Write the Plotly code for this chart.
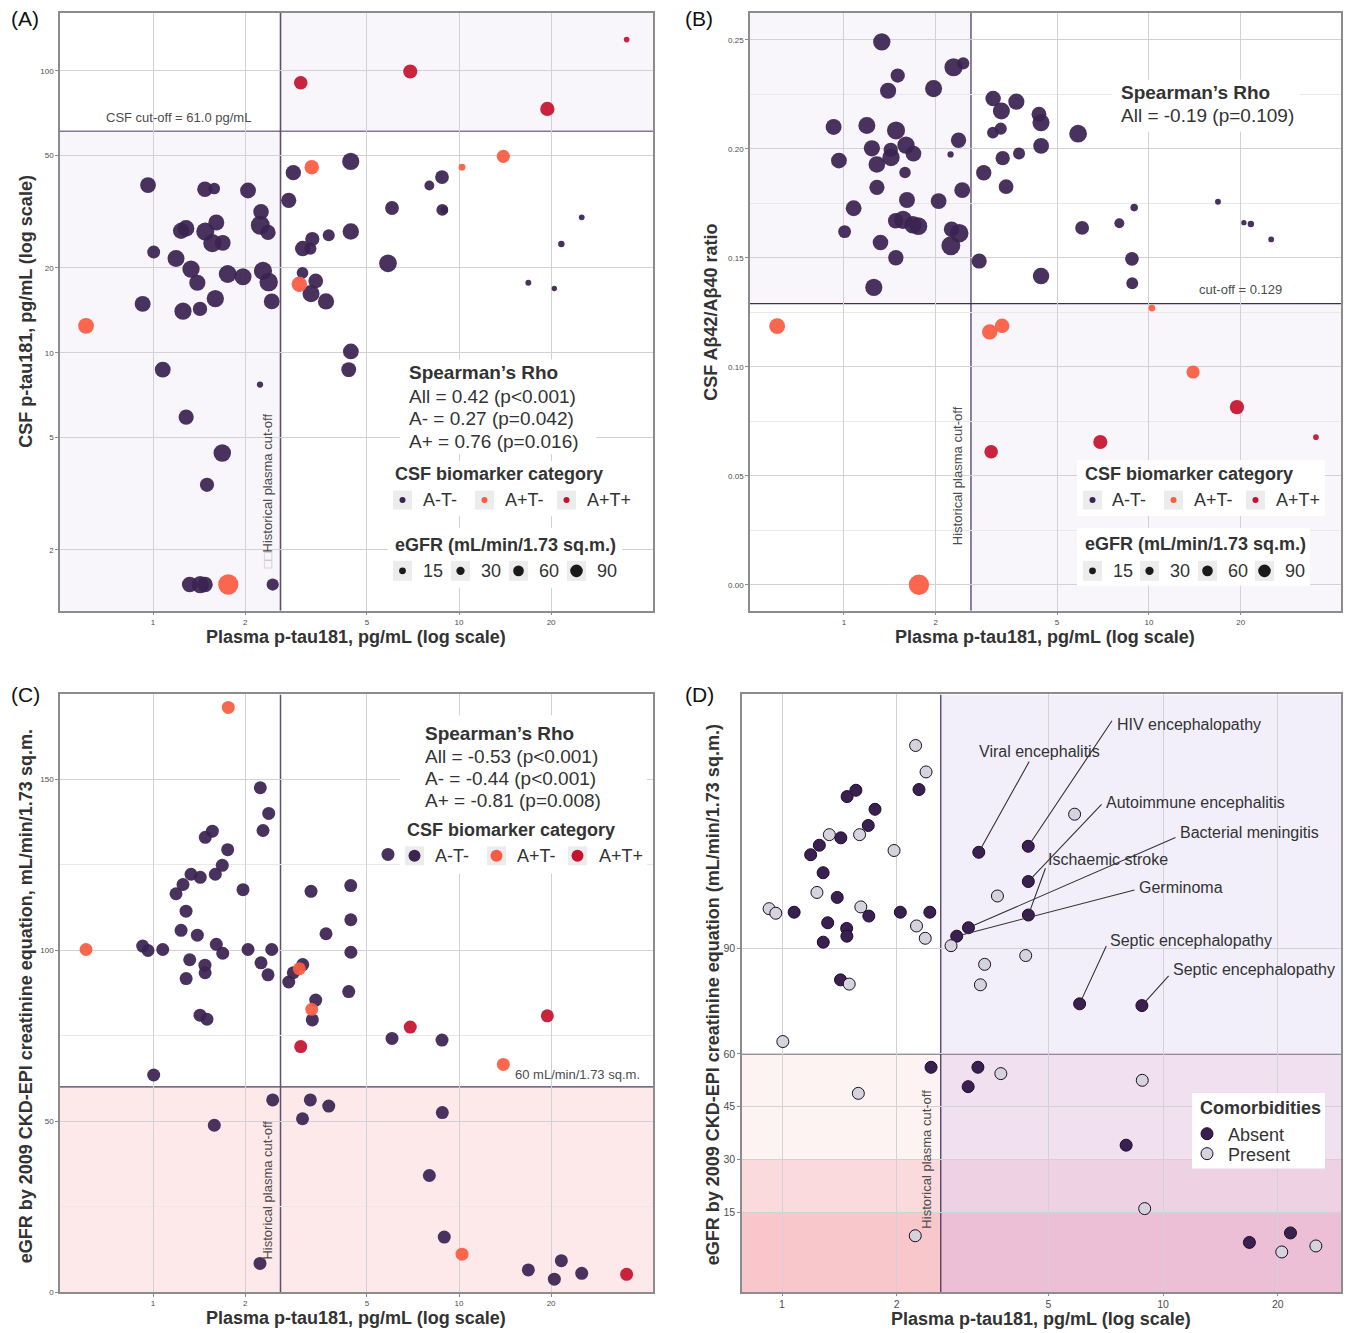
import numpy as np
import plotly.graph_objects as go

W, H = 1346, 1333
FONT = "Liberation Sans, Arial, Helvetica, sans-serif"

# ------------------------------------------------------------------ data
plasma = [
    0.604, 0.925, 0.963, 1.005, 1.076, 1.189, 1.235, 1.253, 1.282, 1.283,
    1.318, 1.331, 1.396, 1.424, 1.427, 1.478, 1.480, 1.482, 1.501, 1.563,
    1.586, 1.598, 1.610, 1.684, 1.690, 1.754, 1.762, 1.968, 2.044, 2.237,
    2.242, 2.254, 2.288, 2.376, 2.388, 2.443, 2.461, 2.777, 2.874, 3.007,
    3.039, 3.085, 3.080, 3.267, 3.284, 3.301, 3.316, 3.402, 3.676, 3.752,
    4.361, 4.428, 4.430, 4.432, 5.86, 6.04, 6.93, 8.00, 8.80, 8.82,
    8.95, 10.23, 13.96, 16.85, 19.44, 20.49, 21.60, 25.18, 35.3]

csf_ptau = [
    12.45, 14.9, 39.3, 22.75, 8.71, 21.6, 27.05, 14.04, 27.6, 5.91,
    1.506, 19.8, 17.7, 14.3, 1.506, 37.97, 1.506, 26.9, 3.40, 24.47,
    38.2, 15.56, 28.96, 4.41, 24.53, 19.02, 1.506, 18.6, 37.6, 7.71,
    28.3, 31.6, 19.5, 26.7, 17.8, 15.2, 1.506, 34.7, 43.5, 17.5,
    90.7, 23.4, 19.2, 23.4, 16.2, 45.5, 25.3, 17.97, 15.2, 26.1,
    8.71, 47.7, 26.9, 10.1, 20.75, 32.6, 99.4, 39.2, 41.98, 32.1,
    32.1, 45.5, 49.7, 17.7, 73.2, 16.9, 24.3, 30.2, 129.0]

ab_ratio = [
    0.1186, 0.210, 0.1946, 0.162, 0.1727, 0.2107, 0.2002, 0.1364, 0.1928, 0.1823,
    0.157, 0.249, 0.2266, 0.1995, 0.196, 0.167, 0.150, 0.2084, 0.2336, 0.1674,
    0.1891, 0.2017, 0.1765, 0.1651, 0.1978, 0.1645, 0.000, 0.2276, 0.176, 0.1974,
    0.1555, 0.1631, 0.2374, 0.2039, 0.1613, 0.181, 0.2392, 0.1485, 0.189, 0.116,
    0.061, 0.223, 0.2074, 0.2092, 0.2173, 0.1188, 0.1957, 0.1826, 0.2216, 0.1978,
    0.2158, 0.212, 0.1416, 0.2013, 0.2069, 0.1637, 0.0655, 0.1658, 0.1495, 0.1383,
    0.173, 0.1269, 0.0976, 0.1757, 0.0815, 0.1661, 0.1655, 0.1584, 0.0677]

egfr = [
    100.2, 101.2, 99.9, 63.5, 100.2, 116.5, 105.8, 119.2, 111.4, 91.7,
    97.2, 122.2, 104.4, 81.0, 121.3, 95.6, 93.4, 133.0, 79.8, 134.8,
    48.8, 122.2, 101.7, 124.8, 99.1, 129.4, 171.0, 117.7, 100.2, 8.4,
    147.5, 96.3, 135.0, 92.8, 140.0, 100.2, 56.2, 90.7, 93.4, 94.6,
    71.8, 95.8, 50.7, 56.2, 117.2, 82.7, 79.6, 85.4, 104.8, 54.4,
    87.9, 118.9, 108.9, 99.4, 128.0, 74.2, 77.5, 34.1, 73.7, 52.5,
    16.1, 11.1, 66.6, 6.5, 80.8, 3.8, 9.2, 5.5, 5.2]

category = [
    "A+T-", "A-T-", "A-T-", "A-T-", "A-T-", "A-T-", "A-T-", "A-T-", "A-T-", "A-T-",
    "A-T-", "A-T-", "A-T-", "A-T-", "A-T-", "A-T-", "A-T-", "A-T-", "A-T-", "A-T-",
    "A-T-", "A-T-", "A-T-", "A-T-", "A-T-", "A-T-", "A+T-", "A-T-", "A-T-", "A-T-",
    "A-T-", "A-T-", "A-T-", "A-T-", "A-T-", "A-T-", "A-T-", "A-T-", "A-T-", "A+T-",
    "A+T+", "A-T-", "A-T-", "A-T-", "A-T-", "A+T-", "A-T-", "A-T-", "A-T-", "A-T-",
    "A-T-", "A-T-", "A-T-", "A-T-", "A-T-", "A-T-", "A+T+", "A-T-", "A-T-", "A-T-",
    "A-T-", "A+T-", "A+T-", "A-T-", "A+T+", "A-T-", "A-T-", "A-T-", "A+T+"]

comorbidity = [
    "", "Present", "Present", "Present", "Absent", "Absent", "Present", "Absent", "Absent", "Absent",
    "Absent", "Present", "Absent", "Absent", "Absent", "Absent", "Absent", "Absent", "Present", "Absent",
    "Present", "Present", "Present", "Absent", "Absent", "Absent", "", "Present", "Absent", "Present",
    "Present", "Present", "Absent", "Present", "Present", "Absent", "Absent", "Present", "Absent", "",
    "", "Absent", "Absent", "Absent", "Absent", "", "Present", "Present", "Present", "Present",
    "Present", "Absent", "Absent", "Absent", "Present", "Absent", "", "Absent", "Absent", "Present",
    "Present", "", "", "Absent", "", "Present", "Absent", "Present", ""]

categories = ["A-T-", "A+T-", "A+T+"]
comorb_levels = ["Absent", "Present"]
egfr_legend = [15, 30, 60, 90]

x_ticks = [1, 2, 5, 10, 20]
ptau_ticks = [2, 5, 10, 20, 50, 100]
egfr_ticks_d = [15, 30, 45, 60, 90]

plasma_cut = 2.61
csf_cut = 61.0
ratio_cut = 0.129
egfr_cut = 60
egfr_bands = [30, 15]

rho_A = ["All = 0.42 (p<0.001)", "A- = 0.27 (p=0.042)", "A+ = 0.76 (p=0.016)"]
rho_B = ["All = -0.19 (p=0.109)"]
rho_C = ["All = -0.53 (p<0.001)", "A- = -0.44 (p<0.001)", "A+ = -0.81 (p=0.008)"]

d_labels = ["HIV encephalopathy", "Viral encephalitis", "Autoimmune encephalitis",
            "Bacterial meningitis", "Ischaemic stroke", "Germinoma",
            "Septic encephalopathy", "Septic encephalopathy"]
d_label_idx = [51, 44, 52, 41, 53, 38, 55, 58]

# ------------------------------------------------------------------ styles
cat_color = {"A-T-": "#3b2352", "A+T-": "#fb5b41", "A+T+": "#c5122f"}
com_fill = {"Absent": "#3a2050", "Present": "#d5d4dc"}
MARK_OPACITY = 0.93

def pt_size(e):
    return float(np.sqrt(20 + 2.3 * e))

def leg_size(e):
    return float(np.sqrt(24 + 1.5 * e))

# panel pixel boxes (left, right, top, bottom)
PA = (60, 653, 13, 613)
PB = (750, 1341, 13, 613)
PC = (60, 653, 697, 1297)
PD = (742, 1341, 697, 1297)

XR_A = [-0.304, 1.634]
YR_A = [0.085, 2.205]
XR_B = [-0.308, 1.630]
YR_B = [-0.0119, 0.2623]
XR_C = [-0.304, 1.634]
YR_C = [0, 174.8]
XR_D = [-0.105, 1.467]
YR_D = [-7.6, 162]

def xdom(p):
    return [p[0] / W, p[1] / W]

def ydom(p):
    return [1 - p[3] / H, 1 - p[2] / H]

fig = go.Figure()

idx_by_cat = {c: [i for i, v in enumerate(category) if v == c] for c in categories}

# Panel A
for c in categories:
    ii = idx_by_cat[c]
    fig.add_trace(go.Scatter(
        x=[plasma[i] for i in ii], y=[csf_ptau[i] for i in ii], mode="markers",
        marker=dict(size=[pt_size(egfr[i]) for i in ii], color=cat_color[c],
                    opacity=MARK_OPACITY, line=dict(width=0)),
        xaxis="x", yaxis="y", showlegend=False, hoverinfo="skip"))
# Panel B
for c in categories:
    ii = idx_by_cat[c]
    fig.add_trace(go.Scatter(
        x=[plasma[i] for i in ii], y=[ab_ratio[i] for i in ii], mode="markers",
        marker=dict(size=[pt_size(egfr[i]) for i in ii], color=cat_color[c],
                    opacity=MARK_OPACITY, line=dict(width=0)),
        xaxis="x2", yaxis="y2", showlegend=False, hoverinfo="skip"))
# Panel C
for c in categories:
    ii = idx_by_cat[c]
    fig.add_trace(go.Scatter(
        x=[plasma[i] for i in ii], y=[egfr[i] for i in ii], mode="markers",
        marker=dict(size=13, color=cat_color[c], opacity=MARK_OPACITY, line=dict(width=0)),
        xaxis="x3", yaxis="y3", showlegend=False, hoverinfo="skip"))
# Panel D (A-T- only)
for lev in comorb_levels:
    ii = [i for i in range(len(plasma)) if category[i] == "A-T-" and comorbidity[i] == lev]
    fig.add_trace(go.Scatter(
        x=[plasma[i] for i in ii], y=[egfr[i] for i in ii], mode="markers",
        marker=dict(size=12, color=com_fill[lev], opacity=1, line=dict(width=1, color="#1c0c2a")),
        xaxis="x4", yaxis="y4", showlegend=False, hoverinfo="skip"))

# ------------------------------------------------------------------ shapes
shapes = []

def drect(xr, yr, x0, x1, y0, y1, fill):
    shapes.append(dict(type="rect", xref=xr, yref=yr, x0=x0, x1=x1, y0=y0, y1=y1,
                       fillcolor=fill, line=dict(width=0), layer="below"))

def dline(xr, yr, x0, x1, y0, y1, color, w):
    shapes.append(dict(type="line", xref=xr, yref=yr, x0=x0, x1=x1, y0=y0, y1=y1,
                       line=dict(color=color, width=w), layer="below"))

def prect(l, t, r, b, fill, layer="above"):
    shapes.append(dict(type="rect", xref="paper", yref="paper", x0=l / W, x1=r / W,
                       y0=1 - b / H, y1=1 - t / H, fillcolor=fill, line=dict(width=0), layer=layer))

def pdot(cx, cy, d, fill, lc=None, lw=0):
    shapes.append(dict(type="circle", xref="paper", yref="paper", xsizemode="pixel", ysizemode="pixel",
                       xanchor=cx / W, yanchor=1 - cy / H, x0=-d / 2, x1=d / 2, y0=-d / 2, y1=d / 2,
                       fillcolor=fill, line=dict(width=lw, color=lc or fill), layer="above"))

LAV = "#f8f6fb"
# A
ax_lo, ax_hi = 10 ** XR_A[0], 10 ** XR_A[1]
ay_lo, ay_hi = 10 ** YR_A[0], 10 ** YR_A[1]
drect("x", "y", ax_lo, plasma_cut, ay_lo, csf_cut, LAV)
drect("x", "y", plasma_cut, ax_hi, csf_cut, ay_hi, LAV)
dline("x", "y", ax_lo, ax_hi, csf_cut, csf_cut, "#85769a", 1.6)
dline("x", "y", plasma_cut, plasma_cut, ay_lo, ay_hi, "#5e4f71", 1.6)
# B
bx_lo, bx_hi = 10 ** XR_B[0], 10 ** XR_B[1]
drect("x2", "y2", bx_lo, plasma_cut, ratio_cut, YR_B[1], LAV)
drect("x2", "y2", plasma_cut, bx_hi, YR_B[0], ratio_cut, LAV)
dline("x2", "y2", bx_lo, bx_hi, ratio_cut, ratio_cut, "#3f2d5c", 1.2)
dline("x2", "y2", plasma_cut, plasma_cut, YR_B[0], YR_B[1], "#3f2d5c", 1.2)
# C
cx_lo, cx_hi = 10 ** XR_C[0], 10 ** XR_C[1]
drect("x3", "y3", cx_lo, cx_hi, YR_C[0], egfr_cut, "#fde9ea")
dline("x3", "y3", cx_lo, cx_hi, egfr_cut, egfr_cut, "#4a3d63", 1.3)
dline("x3", "y3", plasma_cut, plasma_cut, YR_C[0], YR_C[1], "#5d5070", 1.5)
# D
dx_lo, dx_hi = 10 ** XR_D[0], 10 ** XR_D[1]
drect("x4", "y4", plasma_cut, dx_hi, egfr_cut, YR_D[1], "#f2effa")
drect("x4", "y4", dx_lo, plasma_cut, egfr_bands[0], egfr_cut, "#fdf3f3")
drect("x4", "y4", dx_lo, plasma_cut, egfr_bands[1], egfr_bands[0], "#fbdadd")
drect("x4", "y4", dx_lo, plasma_cut, YR_D[0], egfr_bands[1], "#f8c7cc")
drect("x4", "y4", plasma_cut, dx_hi, egfr_bands[0], egfr_cut, "#f1e1f0")
drect("x4", "y4", plasma_cut, dx_hi, egfr_bands[1], egfr_bands[0], "#efd1e4")
drect("x4", "y4", plasma_cut, dx_hi, YR_D[0], egfr_bands[1], "#edbfd6")
dline("x4", "y4", dx_lo, dx_hi, egfr_cut, egfr_cut, "#3d2b56", 1.2)
dline("x4", "y4", plasma_cut, plasma_cut, YR_D[0], YR_D[1], "#3d2b56", 1.2)

# ------------------------------------------------------------------ annotations
ann = []

def txt(text, x, y, size=13, color="#4d4d4d", xa="center", ya="middle", angle=0, bold=False):
    ann.append(dict(text=("<b>%s</b>" % text) if bold else text, x=x / W, y=1 - y / H,
                    xref="paper", yref="paper", showarrow=False, xanchor=xa, yanchor=ya,
                    textangle=angle, font=dict(family=FONT, size=size, color=color)))

KEYBG = "#ececec"
TXT = "#333333"

def cat_legend(x_title, y_title, key_lefts, label_lefts, y_key, dot_d, title="CSF biomarker category"):
    txt(title, x_title, y_title, 18, TXT, "left", bold=True)
    for c, kl, ll in zip(categories, key_lefts, label_lefts):
        prect(kl, y_key - 9.5, kl + 19, y_key + 9.5, KEYBG)
        pdot(kl + 9.5, y_key, dot_d, cat_color[c])
        txt(c, ll, y_key, 18, TXT, "left")

def egfr_legend_block(x_title, y_title, key_lefts, label_lefts, y_key):
    txt("eGFR (mL/min/1.73 sq.m.)", x_title, y_title, 18, TXT, "left", bold=True)
    for v, kl, ll in zip(egfr_legend, key_lefts, label_lefts):
        prect(kl, y_key - 10, kl + 19, y_key + 10, KEYBG)
        pdot(kl + 9.5, y_key, leg_size(v), "#1a1a1a")
        txt(str(v), ll, y_key, 18, TXT, "left")

# ---- Panel A texts
prect(400, 361, 596, 456, "white")
txt("Spearman’s Rho", 407, 374, 19, TXT, "left", bold=True)
for k, s in enumerate(rho_A):
    txt(s, 407, 398 + 22.5 * k, 19, TXT, "left")
prect(388, 463, 630, 518, "white")
cat_legend(393, 476, [393, 475, 557], [421, 503, 585], 502, 6)
prect(388, 530, 622, 590, "white")
egfr_legend_block(393, 547, [393, 451, 509, 567], [421, 479, 537, 595], 573)
txt("CSF cut-off = 61.0 pg/mL", 178, 118, 13)
txt("<span style='color:#b8b8b8'>□□</span>Historical plasma cut-off", 267, 493, 13, angle=-90)

# ---- Panel B texts
prect(1112, 80, 1300, 132, "white")
txt("Spearman’s Rho", 1119, 93, 19, TXT, "left", bold=True)
txt(rho_B[0], 1119, 116, 19, TXT, "left")
prect(1077, 462, 1325, 518, "white")
cat_legend(1083, 476, [1083, 1164, 1246], [1110, 1192, 1274], 502, 6)
prect(1077, 530, 1310, 588, "white")
egfr_legend_block(1083, 546, [1083, 1140, 1198, 1255], [1111, 1168, 1226, 1283], 573)
txt("cut-off = 0.129", 1240, 291, 13)
txt("Historical plasma cut-off", 957, 478, 13, angle=-90)

# ---- Panel C texts
prect(400, 718, 647, 877, "white")
txt("Spearman’s Rho", 423, 736, 19, TXT, "left", bold=True)
for k, s in enumerate(rho_C):
    txt(s, 423, 759 + 22.5 * k, 19, TXT, "left")
cat_legend(405, 833, [405, 487, 568], [433, 515, 597], 859, 12)
txt("60 mL/min/1.73 sq.m.", 642, 1079, 13, xa="right")
txt("Historical plasma cut-off", 268, 1195, 13, angle=-90)

# ---- Panel D texts
prect(1192, 1097, 1325, 1173, "white")
txt("Comorbidities", 1198, 1112, 18, TXT, "left", bold=True)
for k, lev in enumerate(comorb_levels):
    pdot(1207, 1138 + 20 * k, 12, com_fill[lev], "#1c0c2a", 1)
    txt(lev, 1226, 1139 + 20 * k, 18, TXT, "left")
txt("Historical plasma cut-off", 927, 1164, 13, angle=-90)

# repel-style labels: text left edge / centre-y, and segment start (pixels)
d_text_pos = [(1115, 727), (977, 754), (1104, 806), (1178, 836), (1046, 863),
              (1137, 891), (1108, 944), (1171, 973)]
d_seg_start = [(1113, 722), (1030, 763), (1103, 806), (1177, 840), (1046, 870),
               (1136, 893), (1107, 948), (1170, 978)]

def d_px_to_data(px, py):
    lx = XR_D[0] + (px - PD[0]) / (PD[1] - PD[0]) * (XR_D[1] - XR_D[0])
    yy = YR_D[1] - (py - PD[2]) / (PD[3] - PD[2]) * (YR_D[1] - YR_D[0])
    return lx, yy

for lab, i, (tx, ty), (sx, sy) in zip(d_labels, d_label_idx, d_text_pos, d_seg_start):
    txt(lab, tx, ty, 16, TXT, "left")
    lx, yy = d_px_to_data(sx, sy)
    ann.append(dict(text="", x=float(np.log10(plasma[i])), y=egfr[i], xref="x4", yref="y4",
                    ax=lx, ay=yy, axref="x4", ayref="y4", showarrow=True, arrowhead=0,
                    arrowwidth=1.1, arrowcolor="#333333", standoff=6))

# ---- panel tags and axis titles
for tag, x, y in [("(A)", 25, 19), ("(B)", 699, 19), ("(C)", 25, 697), ("(D)", 699, 697)]:
    txt(tag, x, y, 21, "#111111")
XT = "Plasma p-tau181, pg/mL (log scale)"
txt(XT, 356, 639, 18, TXT, bold=True)
txt(XT, 1045, 639, 18, TXT, bold=True)
txt(XT, 356, 1323, 18, TXT, bold=True)
txt(XT, 1041, 1324, 18, TXT, bold=True)
txt("CSF p-tau181, pg/mL (log scale)", 26, 313, 18, TXT, angle=-90, bold=True)
txt("CSF Aβ42/Aβ40 ratio", 711, 314, 18, TXT, angle=-90, bold=True)
txt("eGFR by 2009 CKD-EPI creatinine equation, mL/min/1.73 sq.m.", 26, 1000, 18, TXT, angle=-90, bold=True)
txt("eGFR by 2009 CKD-EPI creatinine equation (mL/min/1.73 sq.m.)", 713, 999, 18, TXT, angle=-90, bold=True)

# ------------------------------------------------------------------ axes
def axis(size=8, tl=3):
    return dict(showgrid=True, gridcolor="#d2d2d6", gridwidth=1, zeroline=False,
                showline=True, linecolor="#8c8c8c", linewidth=1.5, mirror=True,
                ticks="outside", ticklen=tl, tickwidth=1, tickcolor="#8c8c8c",
                tickfont=dict(family=FONT, size=size, color="#4d4d4d"), fixedrange=True)

minor_style = dict(showgrid=True, gridcolor="#e9e9ec", gridwidth=0.7, ticklen=0)

layout = dict(
    width=W, height=H, margin=dict(l=0, r=0, t=0, b=0),
    paper_bgcolor="white", plot_bgcolor="white", showlegend=False,
    shapes=shapes, annotations=ann,
    xaxis=dict(axis(), domain=xdom(PA), anchor="y", type="log", range=XR_A,
               tickvals=x_ticks, ticktext=[str(v) for v in x_ticks]),
    yaxis=dict(axis(), domain=ydom(PA), anchor="x", type="log", range=YR_A,
               tickvals=ptau_ticks, ticktext=[str(v) for v in ptau_ticks]),
    xaxis2=dict(axis(), domain=xdom(PB), anchor="y2", type="log", range=XR_B,
                tickvals=x_ticks, ticktext=[str(v) for v in x_ticks]),
    yaxis2=dict(axis(), domain=ydom(PB), anchor="x2", range=YR_B, tick0=0, dtick=0.05,
                tickformat=".2f", minor=dict(minor_style, dtick=0.025, tick0=0)),
    xaxis3=dict(axis(), domain=xdom(PC), anchor="y3", type="log", range=XR_C,
                tickvals=x_ticks, ticktext=[str(v) for v in x_ticks]),
    yaxis3=dict(axis(), domain=ydom(PC), anchor="x3", range=YR_C, tick0=0, dtick=50,
                minor=dict(minor_style, dtick=25, tick0=0)),
    xaxis4=dict(axis(10.5, 2), domain=xdom(PD), anchor="y4", type="log", range=XR_D,
                tickvals=x_ticks, ticktext=[str(v) for v in x_ticks]),
    yaxis4=dict(axis(10.5, 3), domain=ydom(PD), anchor="x4", range=YR_D,
                tickvals=egfr_ticks_d, ticktext=[str(v) for v in egfr_ticks_d]),
)
fig.update_layout(**layout)

fig.write_html("out.html", config={"displayModeBar": False},
               post_script="document.body.style.margin='0';document.body.style.overflow='hidden';")
